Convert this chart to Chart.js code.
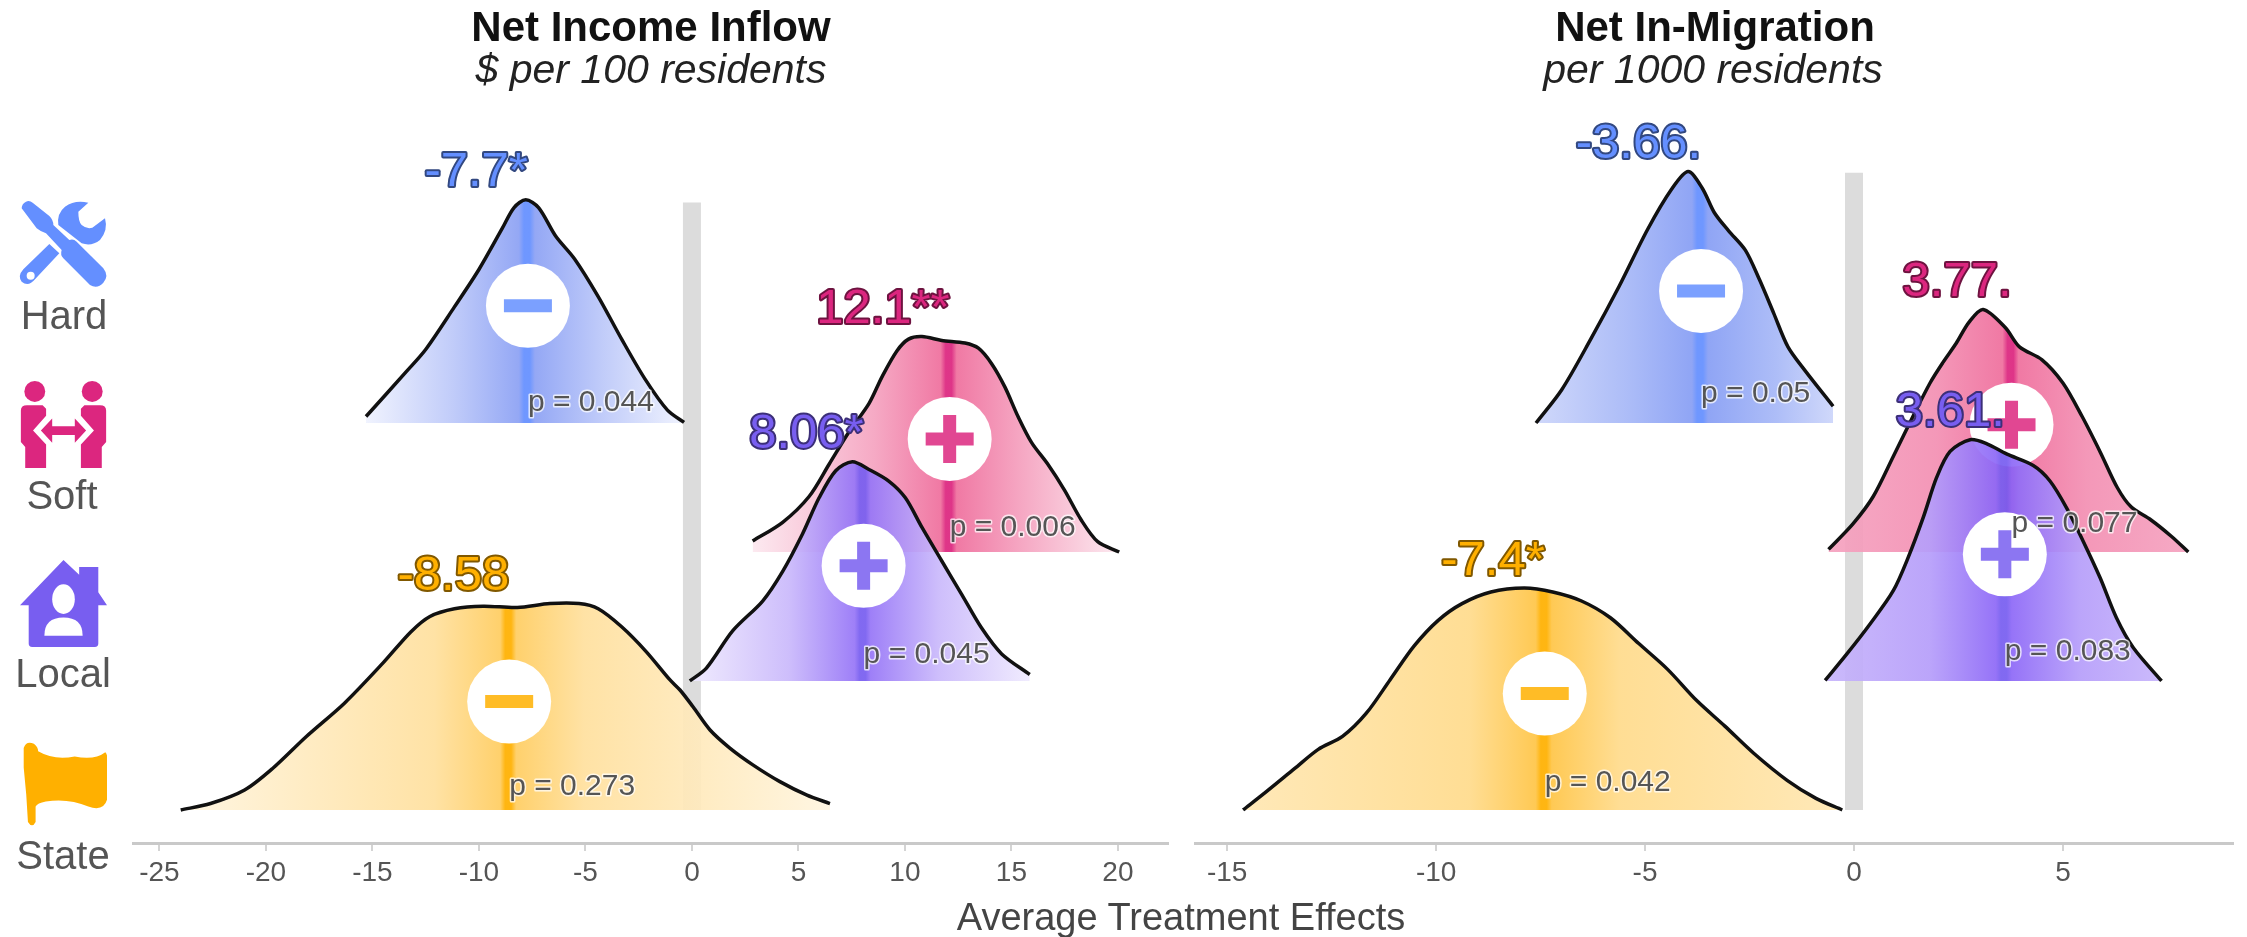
<!DOCTYPE html>
<html>
<head>
<meta charset="utf-8">
<title>Average Treatment Effects</title>
<script src="https://cdn.jsdelivr.net/npm/chart.js@4"></script>
<style>
  html, body { margin: 0; padding: 0; background: #fff; overflow: hidden; }
  #page { position: relative; width: 2247px; height: 937px; font-family: "Liberation Sans", Arial, sans-serif; filter: blur(0.7px); }
  canvas { position: absolute; top: 0; }
  .txt { position: absolute; white-space: nowrap; transform: translate(-50%, -50%); color: #111; }
  .head { font-size: 42px; font-weight: bold; }
  .sub { font-size: 41px; font-style: italic; color: #222; }
  .row { font-size: 40px; color: #555; }
  .xtitle { font-size: 38px; color: #444; }
  svg { position: absolute; }
</style>
</head>
<body>
<div id="page">
  <canvas id="income" width="1180" height="937" style="left:0"></canvas>
  <canvas id="migration" width="1067" height="937" style="left:1180px"></canvas>

  <div class="txt head" style="left:651px;top:27px">Net Income Inflow</div>
  <div class="txt sub" style="left:651px;top:69px">$ per 100 residents</div>
  <div class="txt head" style="left:1715px;top:27px">Net In-Migration</div>
  <div class="txt sub" style="left:1713px;top:69px">per 1000 residents</div>
  <div class="txt xtitle" style="left:1181px;top:917px">Average Treatment Effects</div>

  <div class="txt row" style="left:64px;top:315px">Hard</div>
  <div class="txt row" style="left:62px;top:495px">Soft</div>
  <div class="txt row" style="left:63px;top:673px">Local</div>
  <div class="txt row" style="left:63px;top:855px">State</div>

  <svg style="left:10px;top:190px" width="110" height="110" viewBox="0 0 330 330">
    <g fill="#648FFF">
      <path d="M235 38 L205 65 Q205 95 215 105 Q230 118 247 113 L285 85 Q295 120 270 150 Q245 170 215 160 L145 105 Q140 70 165 50 Q195 28 235 38 Z"/>
      <path d="M118 162 L148 190 L75 268 Q55 292 35 275 Q22 258 40 238 Z"/>
      <path d="M35 55 Q35 42 48 35 Q58 30 68 38 L118 78 Q130 90 130 105 L178 150 Q190 145 200 155 L280 235 Q298 258 280 278 Q262 298 240 285 L160 205 Q150 195 155 180 L108 130 Q92 125 80 115 Z"/>
    </g>
    <circle cx="62" cy="257" r="12" fill="#fff"/>
  </svg>

  <svg style="left:20px;top:381px" width="87" height="87" viewBox="0 0 100 100">
    <g fill="#DC267F">
      <circle cx="17" cy="12" r="12"/>
      <circle cx="83" cy="12" r="12"/>
      <path d="M1 34 Q1 28 8 28 L26 28 L30 32 L30 40 L15 57 L30 73 L30 100 L6 100 L6 76 L1 70 Z"/>
      <path d="M99 34 Q99 28 92 28 L74 28 L70 32 L70 40 L85 57 L70 73 L70 100 L94 100 L94 76 L99 70 Z"/>
      <path d="M24 57 L37 43 L37 52 L63 52 L63 43 L76 57 L63 71 L63 62 L37 62 L37 71 Z"/>
    </g>
  </svg>

  <svg style="left:20px;top:560px" width="87" height="87" viewBox="0 0 100 100">
    <path fill="#785EF0" d="M50 0 L68 17 L68 8 L90 8 L90 37 L100 52 L90 52 L90 96 Q90 100 86 100 L14 100 Q10 100 10 96 L10 52 L0 52 Z"/>
    <ellipse cx="50" cy="45" rx="13" ry="17" fill="#fff"/>
    <path fill="#fff" d="M28 87 Q28 66 50 66 Q72 66 72 87 Z"/>
  </svg>

  <svg style="left:22px;top:740px" width="85" height="89" viewBox="0 0 100 100">
    <path fill="#FFB000" d="M2 7 Q5 -2 14 2 Q19 6 19 11 Q38 22 62 17 Q85 22 98 12 Q102 16 100 30 L100 68 Q96 82 78 76 Q55 66 28 70 Q18 72 16 76 L16 94 Q12 102 7 94 L5 62 L2 30 Z"/>
  </svg>
</div>

<script>
// values: x = treatment effect, density = ridge height in rows
const rowNames = ['State', 'Local', 'Soft', 'Hard'];
const rowColors = ['#FFB000', '#785EF0', '#DC267F', '#648FFF'];
const areaColors = ['#FFAE00', '#7A4FF5', '#EA3F7C', '#5F7DF0'];

const incomeTicks = [-25, -20, -15, -10, -5, 0, 5, 10, 15, 20];
const migrationTicks = [-15, -10, -5, 0, 5];

const incomeMeans = [-8.58, 8.06, 12.1, -7.7];
const incomeEffects = ['-8.58', '8.06*', '12.1**', '-7.7*'];
const incomePvalues = ['p = 0.273', 'p = 0.045', 'p = 0.006', 'p = 0.044'];
const incomeSigns = ['-', '+', '+', '-'];

const migrationMeans = [-7.4, 3.61, 3.77, -3.66];
const migrationEffects = ['-7.4*', '3.61.', '3.77.', '-3.66.'];
const migrationPvalues = ['p = 0.042', 'p = 0.083', 'p = 0.077', 'p = 0.05'];
const migrationSigns = ['-', '+', '+', '-'];

const incomeStateX = [-24.0, -22.6, -21.0, -19.7, -18.1, -16.3, -14.5, -13.2, -12.3, -11.15, -9.8, -8.2, -6.66, -5.3, -4.4, -3.3, -2.16, -1.04, -0.56, 0.05, 0.85, 1.78, 2.86, 4.13, 5.4, 6.48];
const incomeStateD = [0, 0.05, 0.155, 0.32, 0.57, 0.83, 1.14, 1.38, 1.5, 1.56, 1.58, 1.57, 1.6, 1.6, 1.56, 1.42, 1.23, 1.01, 0.93, 0.8, 0.62, 0.48, 0.35, 0.22, 0.115, 0.05];
const incomeLocalX = [-0.1, 0.68, 1.92, 3.32, 4.26, 5.19, 5.97, 6.75, 7.53, 8.31, 9.24, 10.02, 10.8, 11.73, 12.67, 13.6, 14.54, 15.86];
const incomeLocalD = [0, 0.1, 0.39, 0.62, 0.85, 1.14, 1.42, 1.63, 1.7, 1.64, 1.55, 1.42, 1.19, 0.93, 0.67, 0.41, 0.21, 0.05];
const incomeSoftX = [2.85, 4.26, 5.5, 6.44, 7.37, 8.31, 8.93, 9.63, 10.17, 10.8, 11.73, 12.82, 13.45, 14.07, 14.69, 15.31, 15.94, 16.71, 17.49, 18.27, 19.05, 20.06];
const incomeSoftD = [0.085, 0.23, 0.43, 0.68, 0.93, 1.15, 1.36, 1.56, 1.65, 1.67, 1.64, 1.62, 1.58, 1.46, 1.28, 1.05, 0.85, 0.68, 0.48, 0.25, 0.08, 0];
const incomeHardX = [-15.3, -13.4, -12.5, -11.15, -10.0, -8.9, -8.35, -7.8, -7.2, -6.4, -5.5, -4.4, -3.3, -2.2, -1.15, -0.37];
const incomeHardD = [0.05, 0.4, 0.57, 0.9, 1.19, 1.51, 1.67, 1.73, 1.67, 1.45, 1.27, 0.98, 0.65, 0.34, 0.1, 0.005];

const migrationStateX = [-14.62, -14.07, -13.39, -12.82, -12.24, -11.67, -11.1, -10.53, -9.95, -9.38, -8.69, -7.89, -7.21, -6.52, -5.83, -5.15, -4.46, -3.77, -3.09, -2.4, -1.6, -0.91, -0.28];
const migrationStateD = [0, 0.14, 0.32, 0.47, 0.57, 0.75, 1.01, 1.27, 1.47, 1.6, 1.69, 1.72, 1.69, 1.62, 1.49, 1.29, 1.09, 0.85, 0.65, 0.44, 0.23, 0.09, 0];
const migrationLocalX = [-0.69, -0.17, 0.38, 0.94, 1.3, 1.66, 1.98, 2.3, 2.78, 3.17, 3.65, 4.29, 4.69, 5.09, 5.49, 5.89, 6.28, 6.68, 7.36];
const migrationLocalD = [0.005, 0.21, 0.44, 0.7, 0.96, 1.27, 1.58, 1.78, 1.87, 1.84, 1.76, 1.67, 1.55, 1.34, 1.08, 0.8, 0.49, 0.26, 0];
const migrationSoftX = [-0.61, -0.02, 0.46, 0.94, 1.41, 1.82, 2.13, 2.45, 2.75, 3.09, 3.62, 3.96, 4.5, 5.0, 5.46, 5.9, 6.3, 6.63, 7.1, 7.6, 8.0];
const migrationSoftD = [0.02, 0.22, 0.43, 0.74, 1.05, 1.31, 1.47, 1.62, 1.78, 1.88, 1.74, 1.59, 1.49, 1.31, 1.05, 0.77, 0.5, 0.35, 0.25, 0.12, 0];
const migrationHardX = [-7.61, -6.99, -6.3, -5.62, -4.94, -4.37, -3.97, -3.63, -3.34, -3.0, -2.6, -2.26, -1.92, -1.58, -1.18, -0.5];
const migrationHardD = [0, 0.26, 0.65, 1.06, 1.5, 1.81, 1.95, 1.82, 1.63, 1.49, 1.34, 1.11, 0.85, 0.59, 0.41, 0.13];

const incomeZeroTop = 4.71;
const migrationZeroTop = 4.94;

const font = '"Liberation Sans", Arial, sans-serif';

function hexRgb(hex) {
  return [1, 3, 5].map(i => parseInt(hex.slice(i, i + 2), 16));
}

// colour washed towards white, a = 1 is the pure colour
function tint(hex, a, opacity) {
  const c = hexRgb(hex).map(v => Math.round(255 + (v - 255) * a));
  return `rgba(${c[0]},${c[1]},${c[2]},${opacity === undefined ? 1 : opacity})`;
}
function darken(hex, k) {
  const c = hexRgb(hex).map(v => Math.round(v * k));
  return `rgb(${c[0]},${c[1]},${c[2]})`;
}

function fillGradient(context, r) {
  const chart = context.chart;
  const { xs, mean, area, color, wash } = r;
  if (!chart.chartArea) return tint(area, wash[1]);
  const sx = chart.scales.x;
  const x0 = sx.getPixelForValue(xs[0]);
  const x1 = sx.getPixelForValue(xs[xs.length - 1]);
  const xm = sx.getPixelForValue(mean);
  const span = x1 - x0;
  const at = px => Math.min(1, Math.max(0, (xm - x0 + px) / span));
  const g = chart.ctx.createLinearGradient(x0, 0, x1, 0);
  const op = 0.93;
  g.addColorStop(0, tint(area, wash[0], op));
  g.addColorStop(at(-75), tint(area, wash[1], op));
  g.addColorStop(at(-9), tint(area, wash[2], op));
  g.addColorStop(at(-4), tint(color, 1, op));
  g.addColorStop(at(2), tint(color, 1, op));
  g.addColorStop(at(7), tint(area, wash[2], op));
  g.addColorStop(at(75), tint(area, wash[1], op));
  g.addColorStop(1, tint(area, wash[0], op));
  return g;
}

const textPlugin = {
  id: 'ridgeText',
  afterDatasetsDraw(chart, args, opts) {
    const ctx = chart.ctx;
    const sx = chart.scales.x;
    const sy = chart.scales.y;
    ctx.save();
    ctx.textBaseline = 'middle';
    ctx.lineJoin = 'round';
    opts.rows.forEach(r => {
      const px = sx.getPixelForValue(r.mean);
      // p value, white halo like the original
      ctx.font = '30px ' + font;
      ctx.textAlign = 'left';
      ctx.lineWidth = 3;
      ctx.strokeStyle = 'rgba(255,255,255,0.75)';
      ctx.strokeText(r.p, px, sy.getPixelForValue(r.base + r.pLift));
      ctx.fillStyle = '#555';
      ctx.fillText(r.p, px, sy.getPixelForValue(r.base + r.pLift));
    });
    opts.rows.forEach(r => {
      const px = sx.getPixelForValue(r.mean);
      const py = sy.getPixelForValue(r.base + Math.max(...r.d) + 0.21);
      ctx.font = '49px ' + font;
      ctx.textAlign = 'right';
      ctx.lineWidth = 4;
      ctx.strokeStyle = darken(r.color, 0.5);
      ctx.strokeText(r.effect, px, py);
      ctx.fillStyle = r.color;
      ctx.fillText(r.effect, px, py);
    });
    ctx.restore();
  }
};

function ridgeChart(id, panel) {
  const rows = panel.xs.map((xs, i) => ({
    base: i,
    xs,
    d: panel.ds[i],
    mean: panel.means[i],
    effect: panel.effects[i],
    p: panel.pvalues[i],
    pLift: panel.pLift[i],
    sign: panel.signs[i],
    color: rowColors[i],
    area: areaColors[i],
    wash: panel.wash[i]
  }));

  const datasets = [];
  rows.forEach((r, i) => {
    const order = i * 3;
    const spotY = r.base + 0.525 * Math.max(...r.d);
    datasets.push({
      label: rowNames[i],
      data: r.xs.map((v, k) => ({ x: v, y: r.base + r.d[k] })),
      borderColor: '#111',
      borderWidth: 3.5,
      tension: 0.3,
      pointRadius: 0,
      fill: { value: r.base },
      backgroundColor: c => fillGradient(c, r),
      order: order + 3
    });
    datasets.push({
      label: rowNames[i] + ' badge',
      data: [{ x: r.mean, y: spotY }],
      showLine: false,
      pointRadius: 42,
      pointBackgroundColor: '#fff',
      pointBorderWidth: 0,
      order: order + 2
    });
    datasets.push({
      label: rowNames[i] + ' sign',
      data: [{ x: r.mean, y: spotY }],
      showLine: false,
      pointStyle: r.sign === '+' ? 'cross' : 'line',
      pointRadius: 24,
      pointBorderColor: tint(r.color, 0.85),
      pointBorderWidth: 13,
      order: order + 1
    });
  });
  datasets.push({
    label: 'zero',
    data: [{ x: 0, y: 0 }, { x: 0, y: panel.zeroTop }],
    borderColor: '#dcdcdc',
    borderWidth: 18,
    pointRadius: 0,
    fill: false,
    order: 20
  });

  return new Chart(document.getElementById(id), {
    type: 'line',
    data: { datasets },
    plugins: [textPlugin],
    options: {
      responsive: false,
      animation: false,
      // the big badge points would otherwise widen the side padding
      layout: { autoPadding: false, padding: panel.padding },
      plugins: {
        legend: { display: false },
        tooltip: { enabled: false },
        ridgeText: { rows }
      },
      scales: {
        x: {
          type: 'linear',
          min: panel.xMin,
          max: panel.xMax,
          afterBuildTicks: s => { s.ticks = panel.ticks.map(v => ({ value: v })); },
          // keep the plot area where the padding puts it, whatever the tick labels measure
          afterFit: s => { s.height = 60; s.paddingLeft = 0; s.paddingRight = 0; },
          border: { display: true, color: '#c9c9c9', width: 3 },
          grid: { drawOnChartArea: false, drawTicks: true, tickLength: 8, color: '#d4d4d4', lineWidth: 2 },
          ticks: {
            autoSkip: false,
            maxRotation: 0,
            padding: 5,
            color: '#555',
            font: { family: font, size: 28 }
          }
        },
        y: { type: 'linear', display: false, min: -0.256, max: 5.814 }
      }
    }
  });
}

ridgeChart('income', {
  xs: [incomeStateX, incomeLocalX, incomeSoftX, incomeHardX],
  ds: [incomeStateD, incomeLocalD, incomeSoftD, incomeHardD],
  means: incomeMeans,
  effects: incomeEffects,
  pvalues: incomePvalues,
  signs: incomeSigns,
  ticks: incomeTicks,
  zeroTop: incomeZeroTop,
  pLift: [0.18, 0.2, 0.19, 0.16],
  wash: [[0.12, 0.38, 0.62], [0.12, 0.4, 0.78], [0.12, 0.48, 0.75], [0.1, 0.42, 0.72]],
  xMin: -26.24,
  xMax: 22.35,
  padding: { left: 133, right: 12, top: 60, bottom: 34 }
});

ridgeChart('migration', {
  xs: [migrationStateX, migrationLocalX, migrationSoftX, migrationHardX],
  ds: [migrationStateD, migrationLocalD, migrationSoftD, migrationHardD],
  means: migrationMeans,
  effects: migrationEffects,
  pvalues: migrationPvalues,
  signs: migrationSigns,
  ticks: migrationTicks,
  zeroTop: migrationZeroTop,
  pLift: [0.21, 0.23, 0.22, 0.23],
  wash: [[0.3, 0.45, 0.72], [0.42, 0.55, 0.85], [0.48, 0.58, 0.75], [0.32, 0.55, 0.75]],
  xMin: -15.77,
  xMax: 9.07,
  padding: { left: 15, right: 14, top: 60, bottom: 34 }
});
</script>
</body>
</html>
